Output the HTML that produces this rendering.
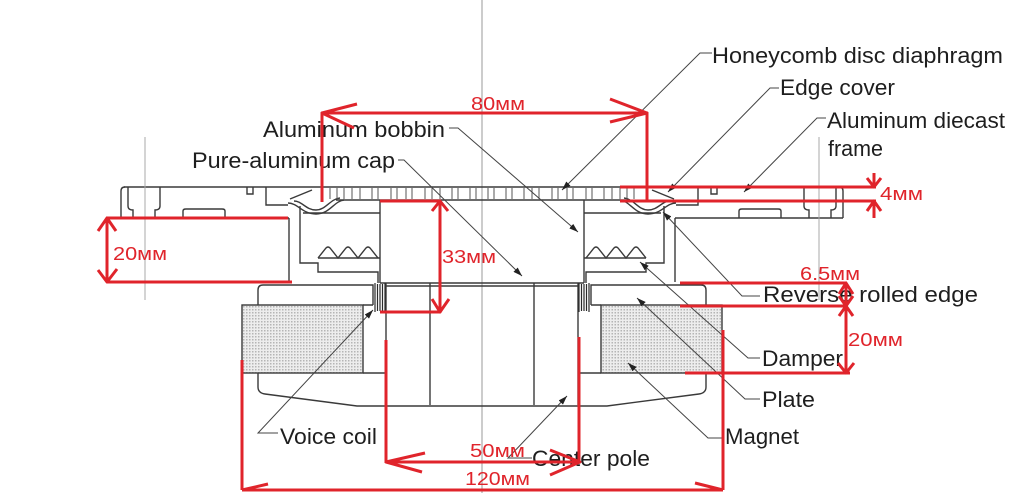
<!DOCTYPE html>
<html><head><meta charset="utf-8"><style>
html,body{margin:0;padding:0;background:#fff;}
svg{display:block;}
</style></head><body>
<svg width="1021" height="493" viewBox="0 0 1021 493" xmlns="http://www.w3.org/2000/svg">
<defs>
<pattern id="dots" width="3" height="3" patternUnits="userSpaceOnUse">
<rect width="3" height="3" fill="#ededed"/>
<rect width="1.5" height="1.5" fill="#b5b5b5"/>
</pattern>
<marker id="ah" markerWidth="9" markerHeight="6" refX="9" refY="3" orient="auto" markerUnits="userSpaceOnUse">
<path d="M0,0 L9,3 L0,6 Z" fill="#222"/>
</marker>
<g id="half">
 <rect x="242" y="305" width="121" height="68" fill="url(#dots)" stroke="#3a3a3a" stroke-width="1.4"/>
 <g fill="none" stroke="#3a3a3a" stroke-width="1.4">
  <path d="M124,187 H482"/>
  <path d="M121,218 V191 Q121,187 125,187"/>
  <path d="M121,218 H289"/>
  <path d="M289,218 V282"/>
  <path d="M128,187 V206 Q128,210 133,210 V218 M160,187 V206 Q160,210 155,210 V218"/>
  <path d="M183,218 V211 Q183,209 186,209 H222 Q225,209 225,211 V218"/>
  <path d="M247,187 V194 H253 V187"/>
  <path d="M266,187 V205 H288"/>
  <path d="M288,203 C298,203 302,214 316,214 C330,214 334,201 344,200"/>
  <path d="M294,201 C302,201 306,210 316,210 C326,210 330,199 340,198"/>
  <path d="M290,199 L312,190"/>
  <path d="M336,200 H482"/>
  <path d="M300,206 V263 H318 V272 H378 V283"/>
  <path d="M303,213 H380"/>
  <path d="M318,258 H380"/>
  <path d="M318,258 L326,248 Q328,246 330,248 L338,258 L346,248 Q348,246 350,248 L358,258 L366,248 Q368,246 370,248 L378,258"/>
  <path d="M380,200 V283"/>
  <path d="M380,283 H482 M386,286 H482"/>
  <path d="M386,283 V405"/>
  <path d="M430,283 V405"/>
  <path d="M373,305 V285 H263 Q258,285 258,290 V305"/>
  <path d="M363,373 H386 M363,305 H373"/>
  <path d="M258,373 V387 Q258,393 265,394 L357,406 H482"/>
 </g>
 <g stroke="#2a2a2a" stroke-width="1.2">
  <path d="M375,283 V312 M377.5,284 V311 M380,284 V311 M382.5,284 V311 M385,283 V312"/>
 </g>
 <g stroke="#555" stroke-width="1">
  <path d="M330,188 V199 M337,188 V199 M344,188 V199 M352,188 V199 M360,188 V199 M372,188 V199 M378,188 V199 M391,188 V199 M397,188 V199 M406,188 V199 M412,188 V199 M425,188 V199 M432,188 V199 M440,188 V199 M452,188 V199 M458,188 V199 M470,188 V199 M476,188 V199"/>
 </g>
 <path d="M145,137 V300" stroke="#aaa" stroke-width="1"/>
</g>
</defs>

<path d="M482,0 V493" stroke="#9a9a9a" stroke-width="1"/>
<use href="#half"/>
<use href="#half" transform="matrix(-1,0,0,1,964,0)"/>

<!-- leader lines -->
<g fill="none" stroke="#444" stroke-width="1">
 <path d="M712,53 H700 L562,190" marker-end="url(#ah)"/>
 <path d="M779,88 H770 L668,192" marker-end="url(#ah)"/>
 <path d="M826,118 H817 L744,192" marker-end="url(#ah)"/>
 <path d="M449,128 H458 L578,232" marker-end="url(#ah)"/>
 <path d="M398,160 H404 L522,276" marker-end="url(#ah)"/>
 <path d="M760,296 H742 L663,212" marker-end="url(#ah)"/>
 <path d="M760,358 H748 L640,262" marker-end="url(#ah)"/>
 <path d="M760,399 H745 L637,298" marker-end="url(#ah)"/>
 <path d="M723,438 H708 L628,363" marker-end="url(#ah)"/>
 <path d="M278,433 H258 L373,310" marker-end="url(#ah)"/>
 <path d="M532,458 H508 L567,396" marker-end="url(#ah)"/>
</g>

<!-- labels -->
<g font-family="'Liberation Sans', Arial, sans-serif" font-size="22" fill="#1e1e1e" lengthAdjust="spacingAndGlyphs">
 <text x="712" y="63" textLength="291" lengthAdjust="spacingAndGlyphs">Honeycomb disc diaphragm</text>
 <text x="780" y="95" textLength="115" lengthAdjust="spacingAndGlyphs">Edge cover</text>
 <text x="827" y="128" textLength="178" lengthAdjust="spacingAndGlyphs">Aluminum diecast</text>
 <text x="828" y="156" textLength="55" lengthAdjust="spacingAndGlyphs">frame</text>
 <text x="263" y="137" textLength="182" lengthAdjust="spacingAndGlyphs">Aluminum bobbin</text>
 <text x="192" y="168" textLength="203" lengthAdjust="spacingAndGlyphs">Pure-aluminum cap</text>
 <text x="763" y="302" textLength="215" lengthAdjust="spacingAndGlyphs">Reverse rolled edge</text>
 <text x="762" y="366" textLength="81" lengthAdjust="spacingAndGlyphs">Damper</text>
 <text x="762" y="407" textLength="53" lengthAdjust="spacingAndGlyphs">Plate</text>
 <text x="725" y="444" textLength="74" lengthAdjust="spacingAndGlyphs">Magnet</text>
 <text x="280" y="444" textLength="97" lengthAdjust="spacingAndGlyphs">Voice coil</text>
 <text x="532" y="466" textLength="118" lengthAdjust="spacingAndGlyphs">Center pole</text>
</g>

<!-- red dimensions -->
<g fill="none" stroke="#e0242b" stroke-width="3" stroke-linejoin="round">
 <path d="M322,202 V113 H647 V200"/>
 <path d="M357,104 L322,113 L354,128"/>
 <path d="M610,99 L647,113 L610,122"/>

 <path d="M620,187 H876 M620,201 H876"/>
 <path d="M874,173 V187 M867,178 L874,187 L881,178"/>
 <path d="M874,201 V218 M867,211 L874,201 L881,211"/>

 <path d="M107,218 H288 M107,282 H292 M107,218 V282"/>
 <path d="M98,231 L107,218 L116,231"/>
 <path d="M98,270 L107,282 L117,269"/>

 <path d="M380,201 H440 V312 H380"/>
 <path d="M432,211 L440,201 L448,211"/>
 <path d="M432,299 L440,312 L449,299"/>

 <path d="M680,283 H847 M680,306 H847 M685,373 H850 M846,283 V373"/>
 <path d="M839,294 L846,283 L853,294"/>
 <path d="M839,296 L846,306 L853,296"/>
 <path d="M839,316 L846,306 L853,316"/>
 <path d="M838,363 L846,373 L854,363"/>

 <path d="M386,340 V463 M579,337 V463 M386,462 H580"/>
 <path d="M425,453 L386,462 L422,472"/>
 <path d="M550,450 L580,462 L550,475"/>

 <path d="M242,360 V490 M723,330 V490 M242,490 H723"/>
 <path d="M268,484 L242,490"/>
 <path d="M695,483 L723,490"/>
</g>

<g font-family="'Liberation Sans', Arial, sans-serif" font-size="18" fill="#e0242b">
 <text x="471" y="110" textLength="54" lengthAdjust="spacingAndGlyphs">80мм</text>
 <text x="880" y="200" textLength="43" lengthAdjust="spacingAndGlyphs">4мм</text>
 <text x="113" y="260" textLength="54" lengthAdjust="spacingAndGlyphs">20мм</text>
 <text x="442" y="263" textLength="54" lengthAdjust="spacingAndGlyphs">33мм</text>
 <text x="800" y="280" textLength="60" lengthAdjust="spacingAndGlyphs">6.5мм</text>
 <text x="848" y="346" textLength="55" lengthAdjust="spacingAndGlyphs">20мм</text>
 <text x="470" y="457" textLength="55" lengthAdjust="spacingAndGlyphs">50мм</text>
 <text x="465" y="485" textLength="65" lengthAdjust="spacingAndGlyphs">120мм</text>
</g>
</svg>
</body></html>
